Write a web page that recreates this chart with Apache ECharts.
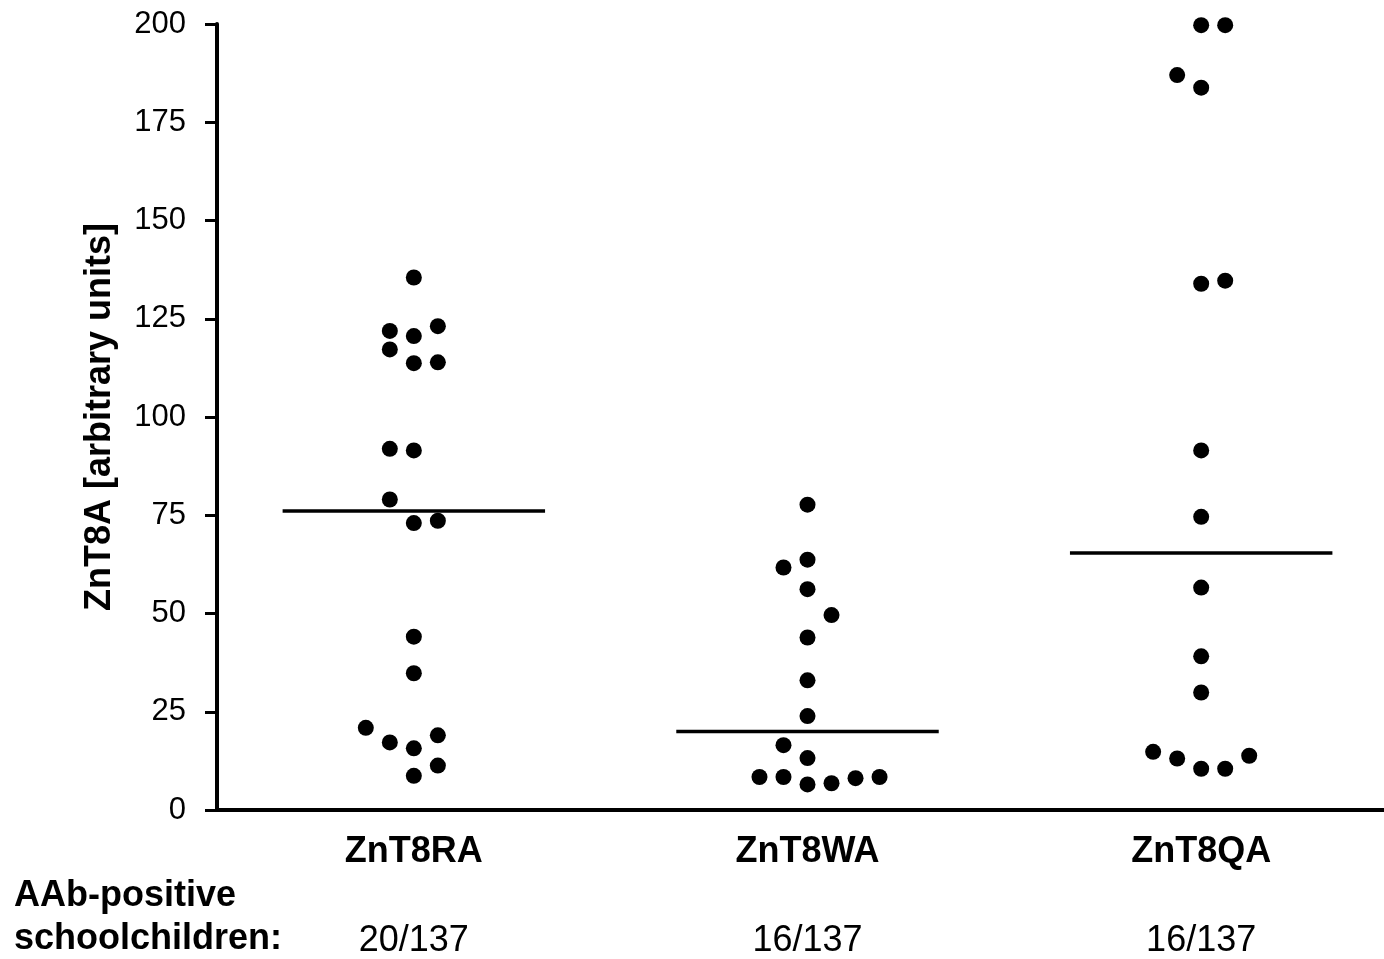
<!DOCTYPE html>
<html>
<head>
<meta charset="utf-8">
<script src="https://cdn.jsdelivr.net/npm/echarts@6/dist/echarts.min.js"></script>
<style>
html,body{margin:0;padding:0;background:#fff;}
#chart{width:1384px;height:959px;}
</style>
</head>
<body>
<div id="chart"></div>
<script>
// ---- data ----
const categories = ['ZnT8RA', 'ZnT8WA', 'ZnT8QA'];
const counts = ['20/137', '16/137', '16/137'];
const yTicks = [0, 25, 50, 75, 100, 125, 150, 175, 200];

const raValues = [135.5, 121.9, 120.6, 123.1, 117.2, 113.7, 113.9, 91.9, 91.5, 79.0, 73.0, 73.6, 44.1, 34.8, 20.9, 17.2, 15.7, 19.0, 11.3, 8.7];
const raCols   = [0, -1, 0, 1, -1, 0, 1, -1, 0, -1, 0, 1, 0, 0, -2, -1, 0, 1, 1, 0];

const waValues = [77.7, 63.7, 61.7, 56.2, 49.6, 43.9, 33.0, 23.9, 16.5, 13.2, 8.4, 8.4, 6.5, 6.8, 8.1, 8.4];
const waCols   = [0, 0, -1, 0, 1, 0, 0, 0, -1, 0, -2, -1, 0, 1, 2, 3];

const qaValues = [199.7, 199.7, 187.0, 183.8, 133.9, 134.7, 91.5, 74.6, 56.6, 39.1, 29.9, 14.8, 13.1, 10.5, 10.5, 13.8];
const qaCols   = [0, 1, -1, 0, 0, 1, 0, 0, 0, 0, 0, -2, -1, 0, 1, 2];

const medians = [76.1, 20.0, 65.4];

// ---- build ----
const STEP = 0.061;      // dot column spacing in category units
const HALF = 1 / 3;      // half width of median line
const X_MAX = 2.9644;    // the third category runs slightly past the right edge
const groups = [[raValues, raCols], [waValues, waCols], [qaValues, qaCols]];
const FONT = 'Liberation Sans, Arial, sans-serif';
const centers = categories.map(function (c, i) { return i + 0.5; });

const series = [];
groups.forEach(function (g, i) {
  series.push({
    type: 'scatter',
    symbol: 'circle',
    symbolSize: 16,
    itemStyle: { color: '#000', opacity: 1 },
    clip: false,
    data: g[0].map(function (v, k) { return [centers[i] + g[1][k] * STEP, v]; }),
    z: 3
  });
  series.push({
    type: 'line',
    symbol: 'none',
    lineStyle: { color: '#000', width: 3.5 },
    data: [[centers[i] - HALF, medians[i]], [centers[i] + HALF, medians[i]]],
    z: 2
  });
});

const chart = echarts.init(document.getElementById('chart'), null, { renderer: 'canvas' });
chart.setOption({
  animation: false,
  backgroundColor: '#fff',
  grid: { left: 217, right: 0, top: 24, bottom: 149, containLabel: false },
  xAxis: {
    type: 'value', min: 0, max: X_MAX,
    axisLine: { show: true, onZero: false, lineStyle: { color: '#000', width: 4 } },
    axisTick: { show: false },
    splitLine: { show: false },
    axisLabel: {
      margin: 11,
      customValues: centers,
      formatter: function (val) {
        const idx = Math.round(val - 0.5);
        return '{a|' + categories[idx] + '}\n{b|' + counts[idx] + '}';
      },
      rich: {
        a: { fontFamily: FONT, fontSize: 36, fontWeight: 'bold', color: '#000', lineHeight: 62 },
        b: { fontFamily: FONT, fontSize: 36, color: '#000', lineHeight: 116 }
      }
    }
  },
  yAxis: {
    type: 'value', min: 0, max: 200, interval: 25,
    name: 'ZnT8A [arbitrary units]',
    nameLocation: 'middle',
    nameGap: 99,
    nameTextStyle: { fontFamily: FONT, fontSize: 36, fontWeight: 'bold', color: '#000' },
    axisLine: { show: true, lineStyle: { color: '#000', width: 4 } },
    axisTick: { show: true, length: 12, lineStyle: { color: '#000', width: 3 } },
    axisLabel: {
      margin: 31, color: '#000', fontFamily: FONT, fontSize: 31,
      formatter: function (v) { return yTicks.indexOf(v) >= 0 ? String(v) : ''; }
    },
    splitLine: { show: false }
  },
  graphic: [{
    type: 'text',
    left: 14,
    top: 875,
    style: {
      text: 'AAb-positive\nschoolchildren:',
      font: 'bold 36px ' + FONT,
      lineHeight: 43,
      fill: '#000'
    }
  }],
  series: series
});
</script>
</body>
</html>
